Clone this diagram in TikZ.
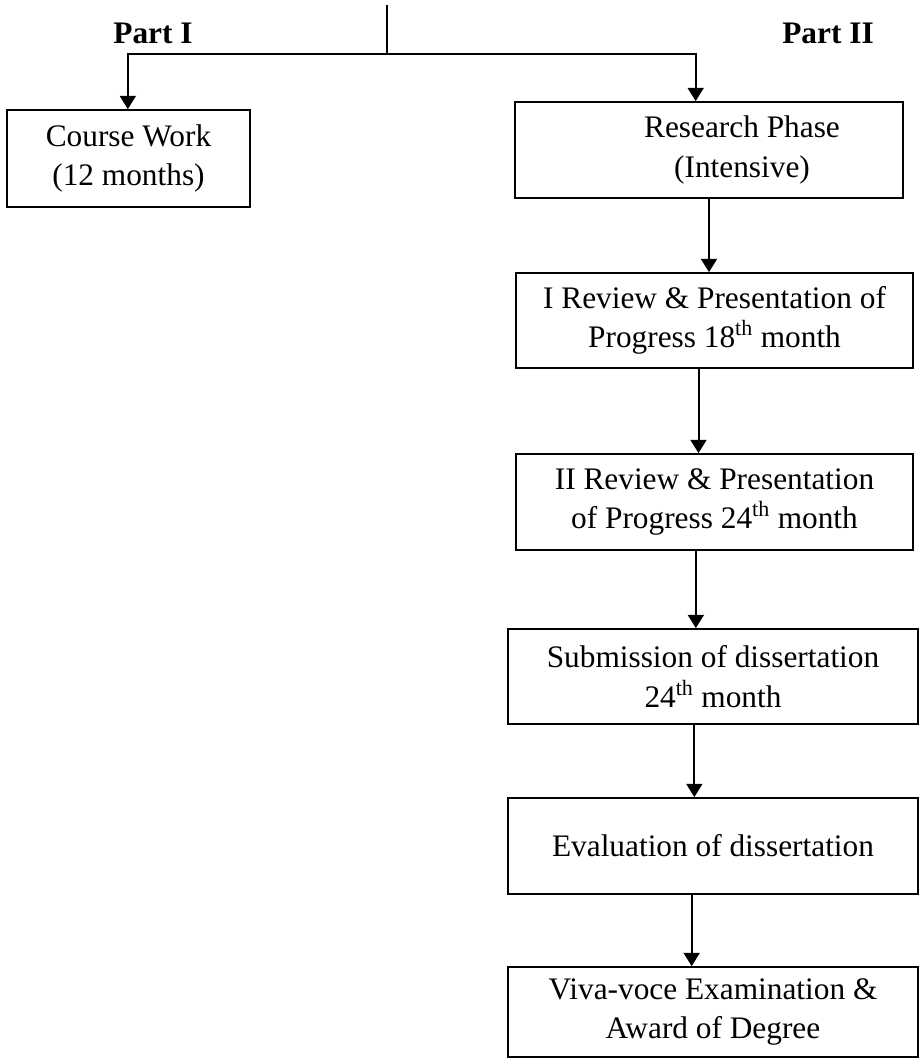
\documentclass[tikz,border=0pt]{standalone}
\usepackage{fontspec}
\setmainfont{Liberation Serif}
\usetikzlibrary{arrows.meta, positioning}

\tikzset{
  stage/.style={draw, line width=1.3pt, align=center, inner sep=0pt,
    font=\fontsize{23.5}{29.5}\selectfont},
  partlabel/.style={anchor=base, font=\fontsize{23.5}{29.5}\selectfont\bfseries},
  flow/.style={line width=1.5pt, -{Triangle[length=10pt,width=12pt]}}
}

\begin{document}
\begin{tikzpicture}[x=0.75pt, y=-0.75pt]
\useasboundingbox (0,0) rectangle (921,1059);

\node[partlabel] (partone) at (153,44) {Part I};
\node[partlabel] (parttwo) at (828,44) {Part II};

\node[stage, minimum width=182.25pt, minimum height=72.75pt] (course) at (128.5,158.5)
  {Course Work\\(12 months)};
\node[stage, minimum width=291pt, minimum height=72pt] (research) at (709,150)
  {\hspace*{49.5pt}Research Phase\\\hspace*{49.5pt}(Intensive)};
\node[stage, minimum width=297.75pt, minimum height=71.25pt] (reviewone) at (714.5,320.5)
  {I Review \& Presentation of\\Progress 18\textsuperscript{th} month};
\node[stage, minimum width=297.75pt, minimum height=72pt] (reviewtwo) at (714.5,502)
  {II Review \& Presentation\\of Progress 24\textsuperscript{th} month};
\node[stage, minimum width=307.5pt, minimum height=71.25pt] (submit) at (713,676.5)
  {Submission of dissertation\\24\textsuperscript{th} month};
\node[stage, minimum width=307.5pt, minimum height=72pt] (evaluate) at (713,846)
  {Evaluation of dissertation};
\node[stage, minimum width=307.5pt, minimum height=67.5pt] (viva) at (713,1012)
  {Viva-voce Examination \&\\Award of Degree};

% split at the top
\coordinate (top) at (387,5);
\coordinate (split) at (387,54);
\draw[line width=1.5pt] (top) -- (split);
\draw[flow] (split) -| ([xshift=-0.5]course.north);
\draw[flow] (split) -| ([xshift=-10]research.north);

% Part II chain
\draw[flow] (research.south) -- (research.south |- reviewone.north);
\draw[flow] ([xshift=-12]reviewone.south) -- ([xshift=-12]reviewone.south |- reviewtwo.north);
\draw[flow] ([xshift=-14]reviewtwo.south) -- ([xshift=-14]reviewtwo.south |- submit.north);
\draw[flow] ([xshift=-14]submit.south) -- ([xshift=-14]submit.south |- evaluate.north);
\draw[flow] ([xshift=-16]evaluate.south) -- ([xshift=-16]evaluate.south |- viva.north);
\end{tikzpicture}
\end{document}
